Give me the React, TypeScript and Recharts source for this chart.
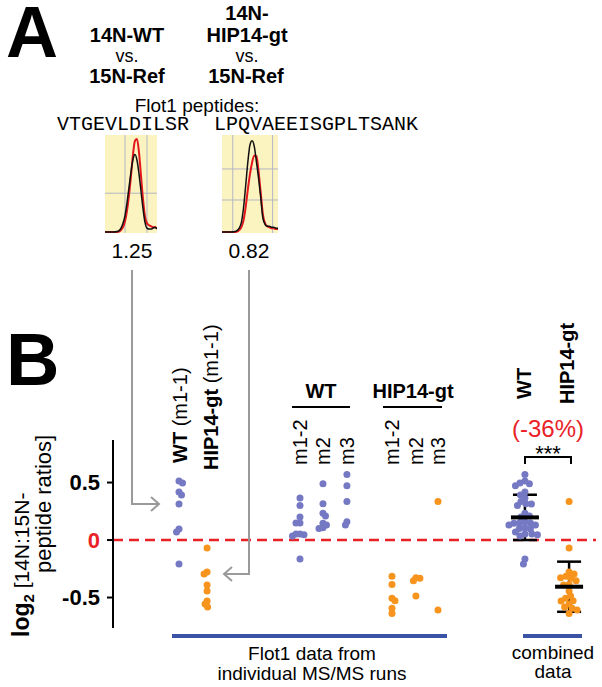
import React from 'react';
import {
  ScatterChart, Scatter, XAxis, YAxis, ReferenceLine, ErrorBar,
  LineChart, Line, CartesianGrid,
} from 'recharts';

const FONT = '"Liberation Sans", Arial, Helvetica, sans-serif';
const MONO = '"Liberation Mono", "Courier New", monospace';

// ---------- Panel A data ----------
const peptides = ['VTGEVLDILSR', 'LPQVAEEISGPLTSANK'];
const peptideRatios = ['1.25', '0.82'];
const retentionTime = [0, 2, 4, 6, 7, 8, 9, 10, 11, 12, 13, 14, 15, 16, 17, 18, 19, 20, 21, 22, 23, 24, 25, 26];
const xicLightPep1 = [0, 0, 0, 0.5, 1.5, 4, 9, 17, 30, 46, 62, 75, 80, 74, 60, 42, 24, 10, 4, 3, 3, 4, 5, 3];
const xicHeavyPep1 = [0, 0, 0, 0, 0.5, 2, 5, 11, 22, 38, 58, 80, 94, 96, 82, 58, 34, 16, 9, 7, 6, 5, 5, 4];
const xicLightPep2 = [0, 0, 0, 0.5, 1.5, 4, 10, 25, 48, 72, 90, 94, 88, 72, 55, 35, 14, 8, 6, 6, 5, 5, 4, 4];
const xicHeavyPep2 = [0, 0, 0, 0, 0.5, 2, 5, 12, 26, 44, 60, 72, 79, 78, 62, 40, 18, 9, 6, 5, 4, 4, 3, 3];
const gridRT1 = [5, 10, 16, 21];
const gridInt1 = [97, 40];
const gridRT2 = [5, 17.5, 23.5];
const gridInt2 = [97, 65, 33];

// ---------- Panel B data (log2 14N:15N peptide ratios) ----------
const wtM11 = [0.513, 0.496, 0.417, 0.391, 0.313, 0.096, 0.07, -0.209];
const hipM11 = [-0.07, -0.278, -0.296, -0.391, -0.443, -0.53, -0.557, -0.583];
const wtM12 = [0.365, 0.3, 0.2, 0.148, 0.148, 0.052, 0.052, 0.045, 0.035, -0.165];
const wtM2 = [0.49, 0.315, 0.232, 0.209, 0.145, 0.131, 0.107, 0.101];
const wtM3 = [0.571, 0.472, 0.336, 0.159, 0.13];
const hipM12 = [-0.316, -0.386, -0.507, -0.528, -0.594, -0.638];
const hipM2 = [-0.333, -0.328, -0.354, -0.487];
const hipM3 = [0.336, -0.609];
const combinedMean = [0.197, -0.406];
const combinedSD = [0.197, 0.218];
const yTicks = [-0.5, 0, 0.5];

// lane (category) positions on the numeric x axis
const laneX = {
  wtM11: 2.87, hipM11: 4.09,
  wtM12: 8.13, wtM2: 9.13, wtM3: 10.17,
  hipM12: 12.13, hipM2: 13.17, hipM3: 14.13,
  wtAll: 17.91, hipAll: 19.83,
};

// chart geometry
const W = 602, H = 687;
const M = { top: 440, bottom: 59, left: 53, right: 6 };
const Y_AXIS_W = 60;
const X_DOMAIN: [number, number] = [0, 21];
const Y_DOMAIN: [number, number] = [-0.765, 0.87];
const PX_PER_X = (W - M.left - Y_AXIS_W - M.right) / (X_DOMAIN[1] - X_DOMAIN[0]);
const PX_PER_Y = (H - M.top - M.bottom) / (Y_DOMAIN[1] - Y_DOMAIN[0]);

const BLUE = '#7579c3';
const ORANGE = '#f7941d';
const RED = '#ea2228';

// simple beeswarm: horizontal offsets so dots don't overlap more than allowed
function swarm(values: number[], minDist: number): number[] {
  const placed: { dx: number; y: number }[] = [];
  const out: number[] = new Array(values.length).fill(0);
  const order = values.map((_, i) => i).sort((a, b) => values[b] - values[a]);
  order.forEach((i, k) => {
    const y = values[i] * PX_PER_Y;
    let dx = 0;
    for (let m = 0; m < 400; m++) {
      const step = m * 0.5;
      const cands = m === 0 ? [0] : k % 2 ? [step, -step] : [-step, step];
      const ok = cands.find((c) => placed.every((p) => (p.dx - c) ** 2 + (p.y - y) ** 2 >= minDist ** 2));
      if (ok !== undefined) { dx = ok; break; }
    }
    placed.push({ dx, y });
    out[i] = dx / PX_PER_X;
  });
  return out;
}

const lanePoints = (vals: number[], x: number, minDist: number) => {
  const off = swarm(vals, minDist);
  return vals.map((v, i) => ({ x: x + off[i], y: v }));
};

const wtAll = [...wtM11, ...wtM12, ...wtM2, ...wtM3];
const hipAll = [...hipM11, ...hipM12, ...hipM2, ...hipM3];

const bluePoints = [
  ...lanePoints(wtM11, laneX.wtM11, 3.6),
  ...lanePoints(wtM12, laneX.wtM12, 3.6),
  ...lanePoints(wtM2, laneX.wtM2, 3.6),
  ...lanePoints(wtM3, laneX.wtM3, 3.6),
  ...lanePoints(wtAll, laneX.wtAll, 5.2),
];
const orangePoints = [
  ...lanePoints(hipM11, laneX.hipM11, 3.6),
  ...lanePoints(hipM12, laneX.hipM12, 3.6),
  ...lanePoints(hipM2, laneX.hipM2, 3.6),
  ...lanePoints(hipM3, laneX.hipM3, 3.6),
  ...lanePoints(hipAll, laneX.hipAll, 5.2),
];
const meanData = [
  { x: laneX.wtAll, y: combinedMean[0], err: combinedSD[0] },
  { x: laneX.hipAll, y: combinedMean[1], err: combinedSD[1] },
];

const xic1 = retentionTime.map((t, i) => ({ t, light: xicLightPep1[i], heavy: xicHeavyPep1[i] }));
const xic2 = retentionTime.map((t, i) => ({ t, light: xicLightPep2[i], heavy: xicHeavyPep2[i] }));

const dot = (color: string) => (p: any) => <circle cx={p.cx} cy={p.cy} r={3.5} fill={color} />;
const meanBar = (p: any) => (
  <line x1={p.cx - 14} x2={p.cx + 14} y1={p.cy} y2={p.cy} stroke="#000" strokeWidth={4} />
);

const YTick = (p: any) => {
  const v = p.payload.value;
  return (
    <text x={p.x} y={p.y} dy={7.5} textAnchor="end" fontFamily={FONT} fontWeight="bold"
      fontSize={22} fill={v === 0 ? RED : '#000'}>
      {v === 0 ? '0' : String(v)}
    </text>
  );
};

function Xic({ data, left, width, gridX, gridY }: any) {
  return (
    <div style={{ position: 'absolute', left, top: 135 }}>
      <LineChart width={width} height={98} data={data} margin={{ top: 0, right: 0, bottom: 0, left: 0 }}>
        <XAxis dataKey="t" type="number" domain={[0, 26]} hide />
        <YAxis domain={[-1, 100]} hide />
        <CartesianGrid fill="#fbf4c0" stroke="#b5b5c5" strokeWidth={1}
          verticalValues={gridX} horizontalValues={gridY} />
        <Line dataKey="heavy" type="monotone" stroke="#e3171c" strokeWidth={2} dot={false} isAnimationActive={false} />
        <Line dataKey="light" type="monotone" stroke="#111" strokeWidth={1.5} dot={false} isAnimationActive={false} />
      </LineChart>
    </div>
  );
}

export default function App() {
  const bold = { fontWeight: 'bold' as const };
  return (
    <div style={{ position: 'absolute', left: 0, top: 0, width: W, height: H, background: '#fff', fontFamily: FONT }}>
      <div style={{ position: 'absolute', left: 0, top: 0 }}>
        <ScatterChart width={W} height={H} margin={M}>
          <XAxis type="number" dataKey="x" domain={X_DOMAIN} hide />
          <YAxis type="number" dataKey="y" domain={Y_DOMAIN} width={Y_AXIS_W} allowDataOverflow
            ticks={yTicks} tick={<YTick />} tickSize={6} tickMargin={7}
            axisLine={{ stroke: '#000', strokeWidth: 2 }} tickLine={{ stroke: '#000', strokeWidth: 2 }} />
          <ReferenceLine y={0} stroke={RED} strokeWidth={2.5} strokeDasharray="10 6" />
          <Scatter data={bluePoints} shape={dot(BLUE)} isAnimationActive={false} />
          <Scatter data={orangePoints} shape={dot(ORANGE)} isAnimationActive={false} />
          <Scatter data={meanData} shape={meanBar} isAnimationActive={false}>
            <ErrorBar dataKey="err" width={12} strokeWidth={2.5} stroke="#000" direction="y" isAnimationActive={false} />
          </Scatter>
        </ScatterChart>
      </div>

      <Xic data={xic1} left={105} width={52} gridX={gridRT1} gridY={gridInt1} />
      <Xic data={xic2} left={222} width={56} gridX={gridRT2} gridY={gridInt2} />

      <svg width={W} height={H} style={{ position: 'absolute', left: 0, top: 0, pointerEvents: 'none' }} fontFamily={FONT}>
        {/* Panel A */}
        <text x={6} y={57} fontSize={72} {...bold}>A</text>
        <g textAnchor="middle" fill="#000">
          <text x={127} y={42} fontSize={20} {...bold}>14N-WT</text>
          <text x={127} y={62} fontSize={18}>vs.</text>
          <text x={127} y={83} fontSize={20} {...bold}>15N-Ref</text>
          <text x={247} y={20} fontSize={20} {...bold}>14N-</text>
          <text x={247} y={42} fontSize={20} {...bold}>HIP14-gt</text>
          <text x={247} y={62} fontSize={18}>vs.</text>
          <text x={246} y={83} fontSize={20} {...bold}>15N-Ref</text>
          <text x={197} y={112} fontSize={19}>Flot1 peptides:</text>
          <text x={132} y={258} fontSize={21}>{peptideRatios[0]}</text>
          <text x={249} y={258} fontSize={21}>{peptideRatios[1]}</text>
        </g>
        <text x={57} y={130} fontFamily={MONO} fontSize={20}>{peptides[0]}</text>
        <text x={214} y={130} fontFamily={MONO} fontSize={20}>{peptides[1]}</text>

        {/* connector arrows */}
        <g stroke="#9a9a9a" strokeWidth={2} fill="none">
          <polyline points="132,270 132,504 158,504" />
          <polyline points="151,497 159,504 151,511" />
          <polyline points="249,270 249,574 225,574" />
          <polyline points="232,567 224,574 232,581" />
        </g>

        {/* Panel B */}
        <text x={6} y={385} fontSize={74} {...bold}>B</text>
        <text transform="translate(29,637) rotate(-90)" fontSize={21}>
          <tspan {...bold} fontSize={23}>log</tspan>
          <tspan {...bold} fontSize={15} dy={5}>2</tspan>
          <tspan dy={-5}>{' [14N:15N-'}</tspan>
        </text>
        <text transform="translate(51,573) rotate(-90)" fontSize={22}>peptide ratios]</text>

        <text transform="translate(187,463) rotate(-90)" fontSize={20}>
          <tspan {...bold}>WT</tspan><tspan>{' (m1-1)'}</tspan>
        </text>
        <text transform="translate(218,470) rotate(-90)" fontSize={20}>
          <tspan {...bold}>HIP14-gt</tspan><tspan>{' (m1-1)'}</tspan>
        </text>

        <text x={321} y={398} fontSize={20} textAnchor="middle" {...bold}>WT</text>
        <text x={413} y={398} fontSize={20} textAnchor="middle" {...bold}>HIP14-gt</text>
        <line x1={292} x2={350} y1={407} y2={407} stroke="#000" strokeWidth={2} />
        <line x1={383} x2={442} y1={407} y2={407} stroke="#000" strokeWidth={2} />

        {[['m1-2', 307], ['m2', 330], ['m3', 354], ['m1-2', 399], ['m2', 423], ['m3', 445]].map(([t, x], i) => (
          <text key={i} transform={`translate(${x},465) rotate(-90)`} fontSize={20}>{t}</text>
        ))}

        <text transform="translate(531,399) rotate(-90)" fontSize={20} {...bold}>WT</text>
        <text transform="translate(574,404) rotate(-90)" fontSize={20} {...bold}>HIP14-gt</text>

        <text x={548} y={437} fontSize={24} fill={RED} textAnchor="middle">(-36%)</text>
        <text x={548} y={461} fontSize={22} textAnchor="middle">***</text>
        <polyline points="525,464 525,457 571,457 571,464" stroke="#000" strokeWidth={2} fill="none" />

        <line x1={172} x2={447} y1={636} y2={636} stroke="#3a53a4" strokeWidth={4} />
        <line x1={523} x2={582} y1={636} y2={636} stroke="#3a53a4" strokeWidth={4} />
        <g textAnchor="middle">
          <text x={312} y={660} fontSize={19}>Flot1 data from</text>
          <text x={312} y={680} fontSize={19}>individual MS/MS runs</text>
          <text x={553} y={659} fontSize={19}>combined</text>
          <text x={553} y={678} fontSize={19}>data</text>
        </g>
      </svg>
    </div>
  );
}
